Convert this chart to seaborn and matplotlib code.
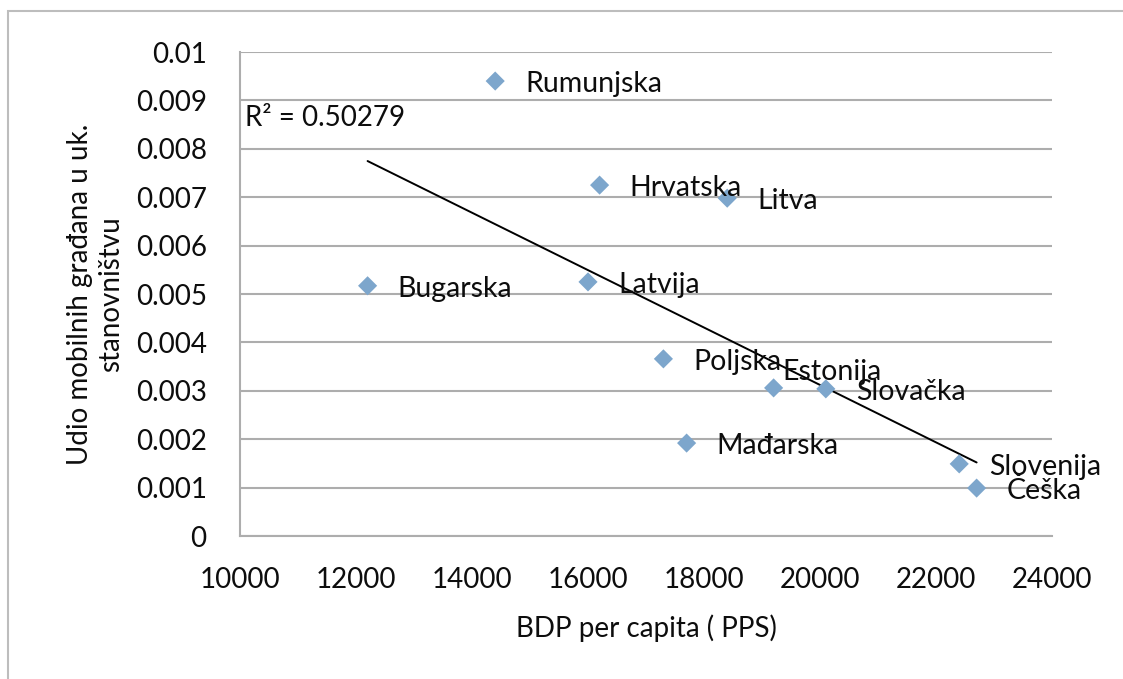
import matplotlib
matplotlib.use("Agg")
import pandas as pd
import seaborn as sns
import matplotlib.pyplot as plt
from matplotlib.patches import Rectangle

drzave = ['Rumunjska', 'Hrvatska', 'Litva', 'Bugarska', 'Latvija', 'Poljska',
          'Estonija', 'Slovačka', 'Mađarska', 'Slovenija', 'Češka']
bdp_pps = [14400, 16200, 18400, 12200, 16000, 17300, 19200, 20100, 17700, 22400, 22700]
udio_mobilnih = [0.0094, 0.00725, 0.00698, 0.00517, 0.00525, 0.00366,
                 0.00306, 0.00304, 0.00192, 0.00149, 0.00099]
x_ticks = [10000, 12000, 14000, 16000, 18000, 20000, 22000, 24000]
y_ticks = [0, 0.001, 0.002, 0.003, 0.004, 0.005, 0.006, 0.007, 0.008, 0.009, 0.01]
r2_tekst = 'R² = 0.50279'

df = pd.DataFrame({'drzava': drzave, 'bdp': bdp_pps, 'udio': udio_mobilnih})

# pomaci oznaka u pikselima (Estonija je ručno pomaknuta)
pomak = {d: (30, -3) for d in drzave}
pomak['Estonija'] = (9, 16)

sns.set_style('white')
plt.rcParams['font.family'] = ['Lato', 'DejaVu Sans']
siva = '#ADADAD'
boja_teksta = '#0d0d0d'

fig = plt.figure(figsize=(11.23, 6.79), dpi=100)
ax = fig.add_axes([0.2137, 0.2106, 0.7231, 0.7128])

sns.regplot(data=df, x='bdp', y='udio', scatter=False, ci=None, truncate=True,
            color='black', line_kws={'linewidth': 1.4}, ax=ax)
sns.scatterplot(data=df, x='bdp', y='udio', marker='D', s=95, color='#7DA6CC',
                edgecolor='none', ax=ax, zorder=3)

for _, r in df.iterrows():
    dx, dy = pomak[r['drzava']]
    ax.annotate(r['drzava'], (r['bdp'], r['udio']), xytext=(dx, dy),
                textcoords='offset pixels', ha='left', va='center',
                fontsize=20.5, color=boja_teksta, zorder=4)

ax.text(10090, 0.00864, r2_tekst, ha='left', va='center', fontsize=20, color=boja_teksta)

ax.set_xlim(10000, 24000)
ax.set_ylim(0, 0.01)
ax.set_xticks(x_ticks)
ax.set_xticklabels([str(v) for v in x_ticks])
ax.set_yticks(y_ticks)
ax.set_yticklabels([f'{v:g}' for v in y_ticks])

ax.yaxis.grid(True, color=siva, linewidth=1.5)
ax.xaxis.grid(False)
ax.set_axisbelow(True)
for s in ['top', 'right']:
    ax.spines[s].set_visible(False)
for s in ['left', 'bottom']:
    ax.spines[s].set_color(siva)
    ax.spines[s].set_linewidth(1.5)

ax.tick_params(axis='both', direction='out', length=9, width=1.5, color=siva,
               labelsize=20, labelcolor=boja_teksta)
ax.tick_params(axis='y', pad=15)
ax.tick_params(axis='x', pad=13)

ax.set_xlabel('BDP per capita ( PPS)', fontsize=20, color=boja_teksta, labelpad=16)
ax.set_ylabel('Udio mobilnih građana u uk.\nstanovništvu', fontsize=20,
              color=boja_teksta, labelpad=8, linespacing=1.25)

# okvir grafikona
fig.add_artist(Rectangle((8 / 1123, -0.5), 2, 1 - 11 / 679 + 0.5, transform=fig.transFigure,
                         fill=False, edgecolor='#BDBDBD', linewidth=1.5, clip_on=False))

fig.savefig('out.png', dpi=100)
